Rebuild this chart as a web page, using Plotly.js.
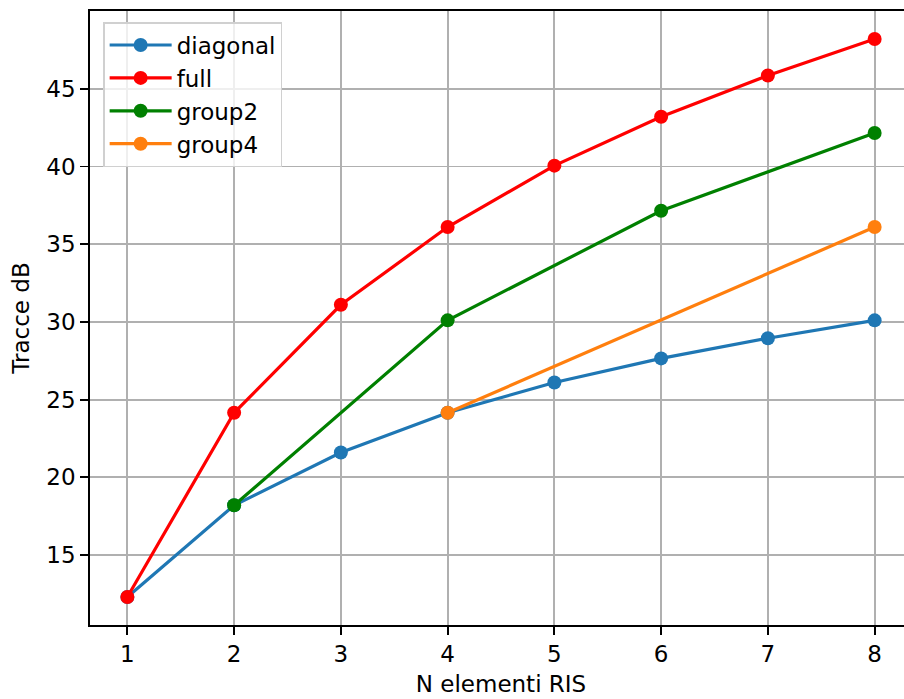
<!DOCTYPE html>
<html>
<head>
<meta charset="utf-8">
<script src="https://cdn.plot.ly/plotly-3.0.1.min.js"></script>
<style>
  html, body { margin: 0; padding: 0; overflow: hidden; background: #fff; }
  #chart { width: 920px; height: 699px; }
</style>
</head>
<body>
<div id="chart"></div>
<script>
// Data
const nDiagonal = [1, 2, 3, 4, 5, 6, 7, 8];
const diagonal  = [12.3, 18.2, 21.6, 24.15, 26.1, 27.65, 28.95, 30.1];

const nFull = [1, 2, 3, 4, 5, 6, 7, 8];
const full  = [12.3, 24.15, 31.1, 36.1, 40.05, 43.2, 45.85, 48.2];

const nGroup2 = [2, 4, 6, 8];
const group2  = [18.2, 30.1, 37.15, 42.15];

const nGroup4 = [4, 8];
const group4  = [24.15, 36.1];

const xTicks = [1, 2, 3, 4, 5, 6, 7, 8];
const yTicks = [15, 20, 25, 30, 35, 40, 45];

const FONT = "DejaVu Sans, sans-serif";

function series(x, y, name, color) {
  return {
    x: x, y: y, name: name, type: "scatter", mode: "lines+markers",
    line: { color: color, width: 3.2 },
    marker: { color: color, size: 14 },
    cliponaxis: false
  };
}

const data = [
  series(nDiagonal, diagonal, "diagonal", "#1f77b4"),
  series(nFull, full, "full", "#ff0000"),
  series(nGroup2, group2, "group2", "#008000"),
  series(nGroup4, group4, "group4", "#ff7f0e")
];

const layout = {
  width: 920, height: 699,
  margin: { l: 90, r: 7.5, t: 11, b: 74 },
  paper_bgcolor: "#ffffff",
  plot_bgcolor: "#ffffff",
  font: { family: FONT, size: 23, color: "#000000" },
  showlegend: true,
  legend: {
    x: 0.016, y: 0.982, xanchor: "left", yanchor: "top",
    bgcolor: "rgba(255,255,255,0.8)",
    bordercolor: "#d0d0d0", borderwidth: 1.5,
    font: { family: FONT, size: 23, color: "#000000" },
    itemwidth: 62,
    tracegroupgap: 0
  },
  xaxis: {
    range: [0.65, 8.35],
    tickmode: "array", tickvals: xTicks, ticktext: xTicks.map(String),
    showgrid: true, gridcolor: "#b0b0b0", gridwidth: 1.8,
    zeroline: false,
    showline: true, linecolor: "#000000", linewidth: 1.8, mirror: true,
    ticks: "outside", ticklen: 8, tickwidth: 1.8, tickcolor: "#000000",
    tickfont: { family: FONT, size: 23, color: "#000000" },
    title: { text: "N elementi RIS", font: { family: FONT, size: 23, color: "#000000" }, standoff: 9 }
  },
  yaxis: {
    range: [10.5, 50.0],
    tickmode: "array", tickvals: yTicks, ticktext: yTicks.map(String),
    showgrid: true, gridcolor: "#b0b0b0", gridwidth: 1.8,
    zeroline: false,
    showline: true, linecolor: "#000000", linewidth: 1.8, mirror: true,
    ticks: "outside", ticklen: 8, tickwidth: 1.8, tickcolor: "#000000",
    tickfont: { family: FONT, size: 23, color: "#000000" },
    title: { text: "Tracce dB", font: { family: FONT, size: 23, color: "#000000" }, standoff: 10 }
  }
};

Plotly.newPlot("chart", data, layout, { displayModeBar: false, staticPlot: true });
</script>
</body>
</html>
